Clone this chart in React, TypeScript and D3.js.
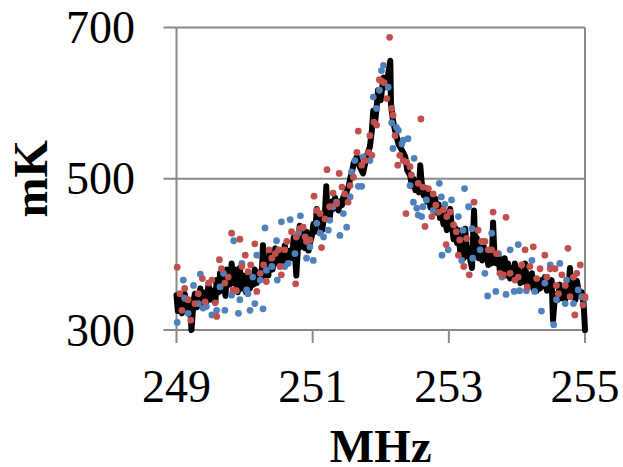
import React from "react";
import * as d3 from "d3";

// Black trace (MHz, mK)
const lineX = [249.00,249.02,249.05,249.08,249.12,249.15,249.20,249.22,249.25,249.27,249.30,249.35,249.37,249.39,249.43,249.47,249.50,249.54,249.57,249.59,249.62,249.64,249.67,249.69,249.72,249.74,249.78,249.81,249.84,249.86,249.90,249.93,249.96,249.98,250.02,250.05,250.08,250.10,250.13,250.15,250.18,250.20,250.25,250.27,250.29,250.32,250.35,250.37,250.41,250.45,250.48,250.52,250.55,250.59,250.62,250.67,250.70,250.72,250.74,250.76,250.79,250.81,250.84,250.86,250.89,250.91,250.94,250.96,250.99,251.01,251.04,251.06,251.09,251.11,251.14,251.16,251.18,251.20,251.22,251.25,251.28,251.30,251.33,251.35,251.38,251.40,251.43,251.45,251.48,251.50,251.53,251.55,251.58,
  251.60,251.65,251.69,251.74,251.79,251.84,251.87,251.89,251.92,251.94,251.96,252.00,252.04,252.08,252.11,252.14,252.15,252.18,252.21,252.26,252.31,252.36,252.39,
  252.43,252.46,252.48,252.51,252.53,252.56,252.58,252.60,252.63,252.65,252.68,252.70,252.73,252.75,252.78,252.80,252.83,252.85,252.87,252.89,252.92,252.94,252.97,252.99,253.02,253.04,253.07,253.09,253.12,253.14,253.17,253.19,253.22,253.24,253.27,253.29,253.32,253.34,253.37,253.39,253.41,253.44,253.46,253.49,253.51,253.53,253.55,253.58,253.60,253.63,253.65,253.67,253.70,253.73,253.75,253.78,253.80,253.82,253.85,253.87,253.90,253.92,253.95,253.97,254.00,254.02,254.05,254.07,254.10,254.12,254.15,254.17,254.20,254.22,254.24,254.26,254.29,254.31,254.34,254.36,254.39,254.41,254.44,254.46,254.49,254.51,254.53,254.55,254.58,254.60,254.63,254.66,254.68,254.71,254.73,254.75,254.78,254.80,254.83,254.86,254.88,254.90,254.93,254.95,254.98,255.00];
const lineY = [346,325,340,322,348,328,335,300,338,348,330,355,336,350,334,360,340,352,336,366,350,375,352,368,345,380,360,388,362,380,350,382,355,372,350,374,355,368,360,380,362,376,370,412,372,385,372,404,380,408,388,404,385,412,392,405,395,422,400,372,420,438,410,426,408,430,405,415,425,440,430,460,440,450,432,445,455,490,448,448,470,460,475,468,458,470,465,476,470,484,490,500,510,
  520,529,516,507,529,542,564,590,577,595,617,604,634,621,639,656,599,577,564,546,538,529,511,
  505,490,500,485,495,482,518,496,478,488,470,482,462,472,458,474,455,466,448,460,440,455,432,446,460,440,420,436,415,432,400,412,395,434,398,408,390,382,458,405,422,395,410,392,412,395,405,386,398,388,442,398,388,398,378,392,376,395,372,388,368,382,370,388,368,380,362,376,364,388,360,372,362,375,355,368,352,362,355,366,358,370,352,362,355,366,313,335,348,340,360,342,352,340,360,350,382,345,352,340,365,355,345,350,335,300];

// Blue dots
const blueX = [249.01,249.10,249.12,249.17,249.25,249.32,249.35,249.39,249.44,249.52,249.59,249.64,249.69,249.71,249.81,249.84,249.91,249.93,249.96,250.03,250.05,250.08,250.12,250.15,250.18,250.23,250.27,250.30,250.32,250.40,250.47,250.48,250.54,250.59,250.64,250.67,250.74,250.79,250.82,250.91,250.96,251.01,251.06,251.11,251.16,251.23,251.25,251.30,251.35,251.40,251.45,251.50,251.55,251.57,251.62,251.67,251.72,251.74,251.84,251.89,251.94,251.98,252.01,252.04,252.11,252.16,252.18,252.23,252.26,252.31,252.33,252.40,252.43,252.48,252.49,252.53,252.55,252.60,252.62,252.67,252.77,252.86,252.89,252.90,252.94,252.99,253.04,253.14,253.19,253.21,253.23,253.29,253.34,253.35,253.46,253.53,253.57,253.63,253.69,253.73,253.78,253.84,253.90,253.96,254.02,254.04,254.14,254.22,254.26,254.36,254.41,254.49,254.54,254.58,254.63,254.71,254.73,254.83,254.90,254.95,255.00];
const blueY = [310,366,342,322,359,335,374,329,331,320,326,357,375,326,346,418,322,340,388,353,348,326,370,335,399,366,328,435,379,384,418,366,443,384,388,446,401,428,451,395,410,392,441,428,423,432,445,463,469,425,454,436,476,509,524,490,490,529,524,608,593,617,643,650,621,574,540,568,564,546,551,553,491,469,527,461,452,450,463,472,458,494,476,399,466,406,472,450,392,432,487,463,434,395,406,375,345,428,351,401,370,347,406,351,413,352,352,392,351,325,362,386,307,340,388,335,366,335,353,344,342];

// Red dots
const redX = [249.01,249.05,249.08,249.12,249.17,249.21,249.27,249.32,249.38,249.42,249.47,249.52,249.57,249.59,249.63,249.66,249.71,249.76,249.81,249.83,249.88,249.93,249.96,250.01,250.05,250.09,250.15,250.18,250.23,250.28,250.32,250.36,250.40,250.45,250.50,250.52,250.54,250.59,250.62,250.69,250.75,250.76,250.81,250.86,250.89,250.91,250.96,251.02,251.06,251.11,251.13,251.18,251.21,251.25,251.30,251.35,251.39,251.43,251.47,251.52,251.55,251.60,251.65,251.67,251.72,251.77,251.82,251.84,251.87,251.90,251.94,251.98,252.01,252.05,252.09,252.13,252.16,252.18,252.21,252.25,252.28,252.33,252.37,252.38,252.43,252.45,252.55,252.59,252.62,252.65,252.70,252.75,252.77,252.81,252.85,252.92,252.96,252.97,253.02,253.07,253.11,253.14,253.16,253.22,253.26,253.30,253.37,253.43,253.48,253.53,253.58,253.63,253.65,253.70,253.75,253.80,253.84,253.90,253.97,254.02,254.07,254.12,254.15,254.19,254.24,254.29,254.34,254.41,254.44,254.49,254.56,254.58,254.61,254.66,254.71,254.75,254.78,254.83,254.85,254.88,254.93,254.97,255.00];
const redY = [383,348,326,355,340,313,335,348,368,337,362,366,336,318,393,381,362,370,428,353,352,420,384,399,377,386,414,351,375,386,364,406,395,401,406,384,373,406,417,430,361,423,434,436,423,417,419,477,458,454,409,447,512,463,481,467,507,489,480,469,491,502,535,563,518,524,535,557,531,575,571,631,629,627,606,687,593,584,557,518,531,524,454,522,516,505,494,579,489,437,487,450,480,465,456,459,413,450,456,439,430,399,419,384,421,373,469,432,417,417,406,406,456,401,375,373,449,375,366,370,386,406,357,384,410,368,381,399,370,381,381,359,348,373,359,408,344,370,320,375,386,333,344];

const xTicks = [249, 251, 253, 255];
const yTicks = [300, 500, 700];

const W = 623, H = 467;
const L = 176.5, R = 585, T = 27.5, B = 330;
const FONT = "'Liberation Serif', 'Times New Roman', serif";
const GRID = "#898989";

export default function App() {
  const x = d3.scaleLinear().domain([249, 255]).range([L, R]);
  const y = d3.scaleLinear().domain([300, 700]).range([B, T]);
  const lineData = lineX.map((v, i) => [v, lineY[i]] as [number, number]);
  const path = d3.line<[number, number]>().x(d => x(d[0])).y(d => y(d[1]))(lineData) || "";

  return (
    <svg width={W} height={H} style={{ position: "absolute", left: 0, top: 0, background: "#fff" }}>
      {yTicks.filter(t => t !== 300).map(t => (
        <line key={"g" + t} x1={L} x2={R} y1={y(t)} y2={y(t)} stroke={GRID} strokeWidth={2} />
      ))}
      <line x1={R} x2={R} y1={T} y2={B} stroke={GRID} strokeWidth={2} />
      <line x1={L} x2={L} y1={T} y2={B} stroke={GRID} strokeWidth={2} />
      <line x1={L} x2={R} y1={B} y2={B} stroke={GRID} strokeWidth={2} />
      {yTicks.map(t => (
        <g key={"yt" + t}>
          <line x1={L - 13} x2={L} y1={y(t)} y2={y(t)} stroke={GRID} strokeWidth={2} />
          <text x={135} y={y(t) + 15.5} textAnchor="end" fontFamily={FONT} fontSize={46} fill="#000">{t}</text>
        </g>
      ))}
      {xTicks.map(t => (
        <g key={"xt" + t}>
          <line x1={x(t)} x2={x(t)} y1={B} y2={B + 13} stroke={GRID} strokeWidth={2} />
          <text x={x(t)} y={402} textAnchor="middle" fontFamily={FONT} fontSize={46} fill="#000">{t}</text>
        </g>
      ))}
      <path d={path} fill="none" stroke="#000" strokeWidth={6} strokeLinejoin="round" strokeLinecap="round" />
      {blueX.map((v, i) => (
        <circle key={"b" + i} cx={x(v)} cy={y(blueY[i])} r={3.4} fill="#4F81BD" />
      ))}
      {redX.map((v, i) => (
        <circle key={"r" + i} cx={x(v)} cy={y(redY[i])} r={3.4} fill="#C0504D" />
      ))}
      <text x={(L + R) / 2} y={462} textAnchor="middle" fontFamily={FONT} fontSize={47} fontWeight="bold" fill="#000">MHz</text>
      <text transform={`translate(47,${(T + B) / 2}) rotate(-90)`} textAnchor="middle" fontFamily={FONT} fontSize={48} fontWeight="bold" fill="#000">mK</text>
    </svg>
  );
}
